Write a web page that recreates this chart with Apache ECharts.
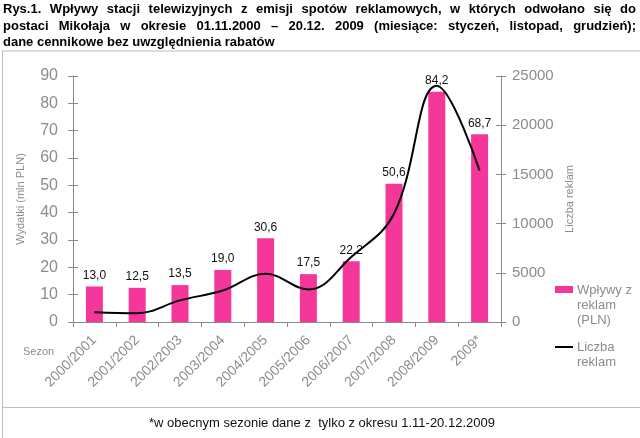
<!DOCTYPE html>
<html><head><meta charset="utf-8">
<script src="https://cdn.jsdelivr.net/npm/echarts@6/dist/echarts.min.js"></script>
<style>html,body{margin:0;padding:0;background:#fff}#c{width:640px;height:438px}</style>
</head><body><div id="c"></div>
<script>
const categories = ['2000/2001','2001/2002','2002/2003','2003/2004','2004/2005','2005/2006','2006/2007','2007/2008','2008/2009','2009*'];
const revenue = [13.0, 12.5, 13.5, 19.0, 30.6, 17.5, 22.2, 50.6, 84.2, 68.7];
const adCount = [1000, 900, 2200, 3200, 4900, 3300, 6600, 11000, 24000, 15400];
const leftTicks = [0, 10, 20, 30, 40, 50, 60, 70, 80, 90];
const rightTicks = [0, 5000, 10000, 15000, 20000, 25000];
const titleLines = [
  'Rys.1. Wpływy stacji telewizyjnych z emisji spotów reklamowych, w których odwołano się do',
  'postaci Mikołaja w okresie 01.11.2000 – 20.12. 2009 (miesiące: styczeń, listopad, grudzień);',
  'dane cennikowe bez uwzględnienia rabatów'
];
const footnote = '*w obecnym sezonie dane z  tylko z okresu 1.11-20.12.2009';

const FF = '"Liberation Sans", Arial, sans-serif';
const PINK = '#f5369b';
const GRAY = '#8a8a8a';
const AX = '#8c8c8c';

// justified title words
const cv = document.createElement('canvas').getContext('2d');
const titleFont = 'bold 13px ' + FF;
cv.font = titleFont;
const graphics = [];
const lineY = [9, 26, 42];
titleLines.forEach((ln, i) => {
  const words = ln.split(' ');
  if (i < 2) {
    const widths = words.map(w => cv.measureText(w).width);
    const total = widths.reduce((a, b) => a + b, 0);
    const gap = (636 - 3 - total) / (words.length - 1);
    let x = 3;
    words.forEach((w, k) => {
      graphics.push({type: 'text', x: x, y: lineY[i], style: {text: w, font: titleFont, fill: '#000', textVerticalAlign: 'middle'}});
      x += widths[k] + gap;
    });
  } else {
    graphics.push({type: 'text', x: 3, y: lineY[i], style: {text: ln, font: titleFont, fill: '#000', textVerticalAlign: 'middle'}});
  }
});
// frame lines
graphics.push({type: 'line', shape: {x1: 2, y1: 51, x2: 640, y2: 51}, style: {stroke: '#bdbdbd', lineWidth: 1}});
graphics.push({type: 'line', shape: {x1: 2.5, y1: 51, x2: 2.5, y2: 438}, style: {stroke: '#bdbdbd', lineWidth: 1}});
graphics.push({type: 'line', shape: {x1: 2, y1: 407.5, x2: 640, y2: 407.5}, style: {stroke: '#bdbdbd', lineWidth: 1}});
// footnote
graphics.push({type: 'text', x: 322, y: 423, style: {text: footnote, font: '13px ' + FF, fill: '#111', textAlign: 'center', textVerticalAlign: 'middle'}});
// Sezon
graphics.push({type: 'text', x: 23, y: 352, style: {text: 'Sezon', font: '11px ' + FF, fill: AX, textVerticalAlign: 'middle'}});
// legend
graphics.push({type: 'rect', shape: {x: 555, y: 286, width: 18, height: 7}, style: {fill: PINK}});
graphics.push({type: 'text', x: 577, y: 283, style: {text: 'Wpływy z\nreklam\n(PLN)', font: '13px ' + FF, fill: AX, lineHeight: 15, textVerticalAlign: 'top'}});
graphics.push({type: 'line', shape: {x1: 555, y1: 347, x2: 573, y2: 347}, style: {stroke: '#000', lineWidth: 2}});
graphics.push({type: 'text', x: 577, y: 340, style: {text: 'Liczba\nreklam', font: '13px ' + FF, fill: AX, lineHeight: 15, textVerticalAlign: 'top'}});

const chart = echarts.init(document.getElementById('c'), null, {renderer: 'canvas'});
const axisLine = {show: true, lineStyle: {color: GRAY, width: 1}};
chart.setOption({
  animation: false,
  textStyle: {fontFamily: FF},
  grid: {left: 73, right: 139, top: 76, bottom: 116},
  xAxis: {
    type: 'category', data: categories,
    axisLine: axisLine,
    axisTick: {show: true, length: 5, lineStyle: {color: GRAY}},
    axisLabel: {rotate: 45, color: AX, fontSize: 14, margin: 16, fontFamily: FF, interval: 0}
  },
  yAxis: [
    {type: 'value', position: 'left', min: leftTicks[0], max: leftTicks[leftTicks.length - 1], interval: 10,
     name: 'Wydatki (mln PLN)', nameLocation: 'middle', nameGap: 47, nameRotate: 90,
     nameTextStyle: {color: AX, fontSize: 11, fontFamily: FF},
     axisLine: axisLine, axisTick: {show: true, length: 5, lineStyle: {color: GRAY}},
     axisLabel: {color: AX, fontSize: 16, margin: 15, fontFamily: FF}, splitLine: {show: false}},
    {type: 'value', position: 'right', min: rightTicks[0], max: rightTicks[rightTicks.length - 1], interval: 5000,
     name: 'Liczba reklam', nameLocation: 'middle', nameGap: 52, nameRotate: 90,
     nameTextStyle: {color: AX, fontSize: 11, fontFamily: FF},
     axisLine: axisLine, axisTick: {show: true, length: 5, lineStyle: {color: GRAY}},
     axisLabel: {color: AX, fontSize: 15, margin: 11, fontFamily: FF, formatter: v => String(v)}, splitLine: {show: false}},
    {type: 'value', position: 'left', min: 0, max: 90, interval: 10,
     axisLine: {show: false}, axisTick: {show: true, inside: true, length: 5, lineStyle: {color: GRAY}},
     axisLabel: {show: false}, splitLine: {show: false}},
    {type: 'value', position: 'right', min: 0, max: 25000, interval: 5000,
     axisLine: {show: false}, axisTick: {show: true, inside: true, length: 5, lineStyle: {color: GRAY}},
     axisLabel: {show: false}, splitLine: {show: false}}
  ],
  series: [
    {type: 'bar', name: 'Wpływy z reklam (PLN)', data: revenue, yAxisIndex: 0, barWidth: 17,
     itemStyle: {color: PINK},
     label: {show: true, position: 'top', color: '#111', fontSize: 12, fontFamily: FF, distance: 5,
             formatter: p => p.value.toFixed(1).replace('.', ',')}},
    {type: 'line', name: 'Liczba reklam', data: adCount, yAxisIndex: 1, smooth: 0.4, symbol: 'none',
     lineStyle: {color: '#000', width: 2}, z: 3}
  ],
  graphic: graphics
});
</script></body></html>
